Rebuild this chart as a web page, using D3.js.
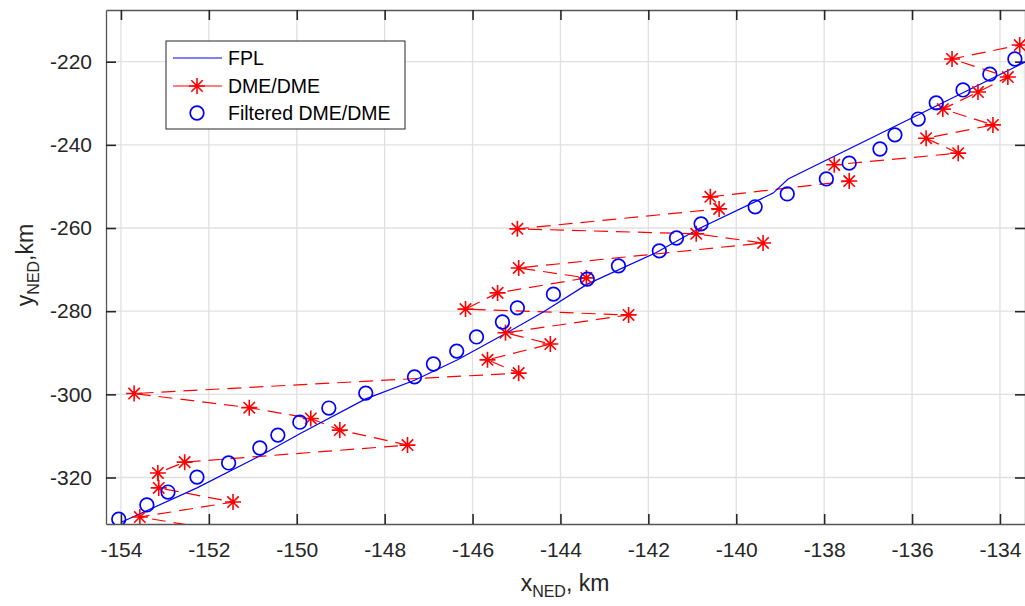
<!DOCTYPE html>
<html>
<head>
<meta charset="utf-8">
<script src="https://cdn.jsdelivr.net/npm/d3@7"></script>
<style>
  body { margin: 0; background: #fff; }
  svg { font-family: "Liberation Sans", Arial, sans-serif; }
</style>
</head>
<body>
<svg id="chart" width="1025" height="606"></svg>
<script>
// flight plan (FPL) track
let fplX = [-153.98, -152.27, -150.8, -149.93, -148.43, -147.32, -146.34, -145.27, -144.39, -143.39, -141.84, -140.82, -139.16, -138.82, -133.43];
let fplY = [-330.7, -322.5, -314.6, -309.5, -301.1, -296.6, -291.7, -285.5, -280.2, -273.5, -266.0, -260.0, -251.6, -248.2, -220.1];

// raw DME/DME fixes, in time order
let dmeX = [-151.5, -153.57, -151.45, -153.14, -153.16, -152.55, -147.48, -149.02, -149.68, -151.08, -153.7,
            -144.95, -145.66, -144.23, -145.25, -142.45, -146.16, -145.43, -143.41, -144.95, -139.39, -140.91,
            -144.98, -140.39, -140.59, -137.43, -137.77, -134.95, -135.68, -134.16, -135.3, -134.5, -133.82, -135.09, -133.55];
let dmeY = [-333.1, -329.5, -325.9, -322.5, -318.9, -316.3, -312.2, -308.6, -305.8, -303.2, -299.8,
            -294.9, -291.7, -287.9, -285.2, -280.9, -279.5, -275.6, -272.0, -269.6, -263.6, -261.4,
            -260.2, -255.4, -252.5, -248.7, -244.8, -242.0, -238.4, -235.2, -231.4, -227.3, -223.7, -219.35, -216.0];

// filtered DME/DME
let filtX = [-154.05, -153.41, -152.93, -152.27, -151.55, -150.84, -150.43, -149.93, -149.27, -148.43, -147.32,
             -146.89, -146.36, -145.91, -145.32, -144.98, -144.16, -143.39, -142.68, -141.75, -141.36, -140.8,
             -139.57, -138.84, -137.95, -137.43, -136.73, -136.39, -135.86, -135.45, -134.84, -134.23, -133.66];
let filtY = [-330.0, -326.6, -323.5, -319.9, -316.5, -312.9, -309.8, -306.7, -303.3, -299.7, -295.8,
             -292.7, -289.6, -286.2, -282.6, -279.2, -275.9, -272.3, -269.1, -265.5, -262.4, -259.0,
             -254.9, -251.8, -248.2, -244.4, -241.0, -237.6, -233.8, -229.9, -226.8, -223.0, -219.35];

let xTicks = [-154, -152, -150, -148, -146, -144, -142, -140, -138, -136, -134];
let yTicks = [-320, -300, -280, -260, -240, -220];
let legendNames = ["FPL", "DME/DME", "Filtered DME/DME"];

let pLeft = 106, pRight = 1025, pTop = 10, pBottom = 524;

let x = d3.scaleLinear().domain([-154.34, -133.43]).range([pLeft, pRight]);
let y = d3.scaleLinear().domain([-331.18, -207.57]).range([pBottom, pTop]);

let svg = d3.select("#chart");

svg.append("defs").append("clipPath").attr("id", "plotClip")
   .append("rect").attr("x", pLeft).attr("y", pTop).attr("width", pRight - pLeft).attr("height", pBottom - pTop);

// grid
let grid = svg.append("g");
grid.selectAll(".gx").data(xTicks).enter().append("line")
    .attr("x1", d => x(d)).attr("x2", d => x(d)).attr("y1", pTop).attr("y2", pBottom)
    .attr("stroke", "#e0e0e0").attr("stroke-width", 1.3);
grid.selectAll(".gy").data(yTicks).enter().append("line")
    .attr("x1", pLeft).attr("x2", pRight).attr("y1", d => y(d)).attr("y2", d => y(d))
    .attr("stroke", "#e0e0e0").attr("stroke-width", 1.3);

// axes, ticks pointing inward
let fmt = d => String(d);
let xAxis = svg.append("g").attr("transform", `translate(0,${pBottom})`)
   .call(d3.axisBottom(x).tickValues(xTicks).tickFormat(fmt).tickSizeInner(-10).tickSizeOuter(0).tickPadding(18));
let yAxis = svg.append("g").attr("transform", `translate(${pLeft},0)`)
   .call(d3.axisLeft(y).tickValues(yTicks).tickFormat(fmt).tickSizeInner(-10).tickSizeOuter(0).tickPadding(14));
let xTop = svg.append("g").attr("transform", `translate(0,${pTop})`)
   .call(d3.axisTop(x).tickValues(xTicks).tickFormat("").tickSizeInner(-10).tickSizeOuter(0));
let yRight = svg.append("g").attr("transform", `translate(${pRight},0)`)
   .call(d3.axisRight(y).tickValues(yTicks).tickFormat("").tickSizeInner(-10).tickSizeOuter(0));

[xAxis, yAxis, xTop, yRight].forEach(function(a) {
  a.select(".domain").attr("stroke", "#555").attr("stroke-width", 1.3);
  a.selectAll(".tick line").attr("stroke", "#262626").attr("stroke-width", 1.6);
  a.selectAll(".tick text").attr("fill", "#262626").style("font-size", "21px")
   .style("font-family", '"Liberation Sans", Arial, sans-serif');
});

// data layer
let plot = svg.append("g").attr("clip-path", "url(#plotClip)");

let fplData = fplX.map((d, i) => [d, fplY[i]]);
let dmeData = dmeX.map((d, i) => [d, dmeY[i]]);
let filtData = filtX.map((d, i) => [d, filtY[i]]);

let line = d3.line().x(d => x(d[0])).y(d => y(d[1]));

plot.append("path").datum(dmeData).attr("d", line)
    .attr("fill", "none").attr("stroke", "#ff0000").attr("stroke-width", 1.2)
    .attr("stroke-dasharray", "14,8");

plot.append("path").datum(fplData).attr("d", line)
    .attr("fill", "none").attr("stroke", "#0000ff").attr("stroke-width", 1.2);

let starPath = "M-8,0H8M0,-8V8M-5.7,-5.7L5.7,5.7M-5.7,5.7L5.7,-5.7";
plot.selectAll(".star").data(dmeData).enter().append("path")
    .attr("transform", d => `translate(${x(d[0])},${y(d[1])})`)
    .attr("d", starPath).attr("fill", "none").attr("stroke", "#ff0000").attr("stroke-width", 1.6);

plot.selectAll(".circ").data(filtData).enter().append("circle")
    .attr("cx", d => x(d[0])).attr("cy", d => y(d[1])).attr("r", 6.8)
    .attr("fill", "none").attr("stroke", "#0000ff").attr("stroke-width", 1.7);

// legend
let lg = svg.append("g");
lg.append("rect").attr("x", 166).attr("y", 41).attr("width", 239).attr("height", 88)
  .attr("fill", "#fff").attr("stroke", "#262626").attr("stroke-width", 1);
let rows = [58, 86, 113];
lg.append("line").attr("x1", 173).attr("x2", 222).attr("y1", rows[0]).attr("y2", rows[0])
  .attr("stroke", "#0000ff").attr("stroke-width", 1.2);
lg.append("line").attr("x1", 173).attr("x2", 222).attr("y1", rows[1]).attr("y2", rows[1])
  .attr("stroke", "#ff0000").attr("stroke-width", 1.2);
lg.append("path").attr("transform", `translate(197,${rows[1]})`).attr("d", starPath)
  .attr("fill", "none").attr("stroke", "#ff0000").attr("stroke-width", 1.6);
lg.append("circle").attr("cx", 197).attr("cy", rows[2]).attr("r", 6.8)
  .attr("fill", "none").attr("stroke", "#0000ff").attr("stroke-width", 1.7);
lg.selectAll(".lt").data(legendNames).enter().append("text")
  .attr("x", 228).attr("y", (d, i) => rows[i]).attr("dy", "0.36em")
  .attr("fill", "#000").style("font-size", "19.5px").text(d => d);

// axis labels
let xl = svg.append("text").attr("x", 565).attr("y", 591).attr("text-anchor", "middle")
  .attr("fill", "#262626").style("font-size", "23px");
xl.append("tspan").text("x");
xl.append("tspan").attr("dy", 6).style("font-size", "16px").text("NED");
xl.append("tspan").attr("dy", -6).text(", km");

let yl = svg.append("text").attr("transform", "translate(33,265) rotate(-90)").attr("text-anchor", "middle")
  .attr("fill", "#262626").style("font-size", "23px");
yl.append("tspan").text("y");
yl.append("tspan").attr("dy", 6).style("font-size", "16px").text("NED");
yl.append("tspan").attr("dy", -6).text(",km");
</script>
</body>
</html>
